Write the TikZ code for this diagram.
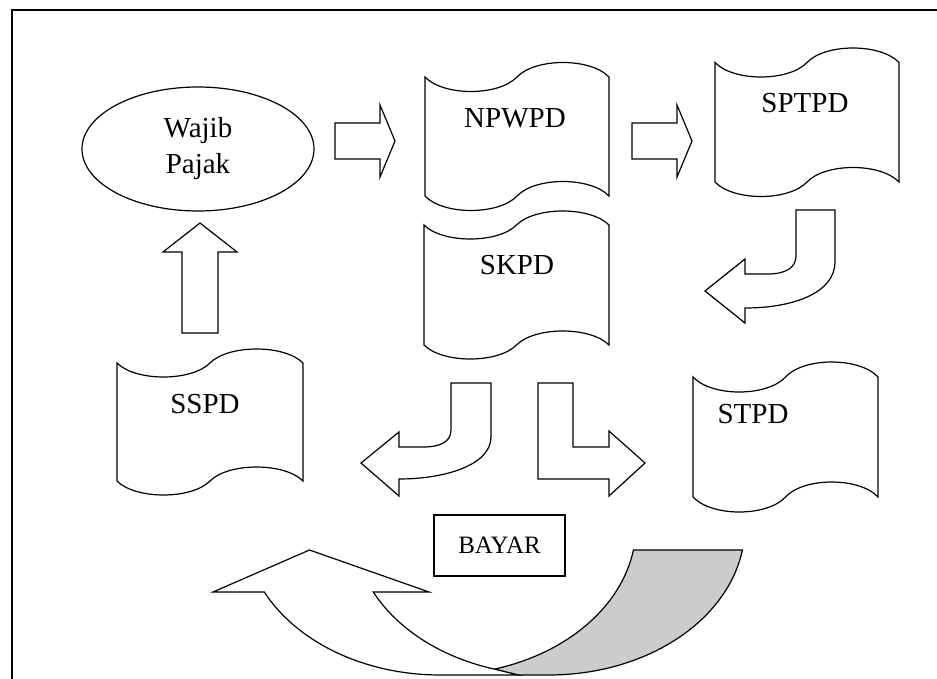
\documentclass[tikz,border=0pt]{standalone}
\usepackage{fontspec}
\setmainfont{Liberation Serif}
\usetikzlibrary{shapes.geometric}
\definecolor{shadegray}{RGB}{204,204,204}
\tikzset{
  shp/.style={draw=black, line width=1.2pt, fill=white, line join=miter},
  lbl/.style={font=\fontsize{29}{36}\selectfont, inner sep=0pt, align=center},
  frame/.style={draw=black, line width=1.7pt},
}
% name, x0, x1, ytop, ybottom, amplitude, text x, text y, text
\newcommand\tapedoc[9]{%
  \pgfmathsetmacro\tq{(#3-#2)/4}%
  \pgfmathsetmacro\th{4*#6/3}%
  \draw[shp] (#2,#4)
    .. controls ({#2+0.4*\tq},{#4+\th}) and ({#2+1.6*\tq},{#4+\th}) .. ({#2+2*\tq},#4)
    .. controls ({#2+2.4*\tq},{#4-\th}) and ({#2+3.6*\tq},{#4-\th}) .. (#3,#4)
    -- (#3,#5)
    .. controls ({#2+3.6*\tq},{#5-\th}) and ({#2+2.4*\tq},{#5-\th}) .. ({#2+2*\tq},#5)
    .. controls ({#2+1.6*\tq},{#5+\th}) and ({#2+0.4*\tq},{#5+\th}) .. (#2,#5)
    -- cycle;
  \node[lbl] (#1) at (#7,#8) {#9};%
}
\begin{document}
\begin{tikzpicture}[x=1pt,y=-1pt]
\useasboundingbox (0,0) rectangle (937,679);
% frame
\draw[frame] (12,679) -- (12,10) -- (937,10);

% Wajib Pajak
\node[ellipse, draw, line width=1.2pt, minimum width=232, minimum height=124,
      inner sep=0pt, align=center, font=\fontsize{29}{36}\selectfont]
      (wp) at (198,149) {Wajib\\Pajak};

% documents
\tapedoc{npwpd}{425}{609}{77}{196}{14.5}{515}{118}{NPWPD}
\tapedoc{sptpd}{715}{899}{62.5}{182}{14.5}{805}{103}{SPTPD}
\tapedoc{skpd}{424}{609}{225}{345}{14}{517}{265}{SKPD}
\tapedoc{sspd}{117}{303}{363}{481}{14}{205}{404}{SSPD}
\tapedoc{stpd}{693}{878}{377}{497}{15}{753}{414}{STPD}

% straight block arrows
\draw[shp] (335,123) -- (380,123) -- (380,105) -- (395,141) -- (380,177) -- (380,159) -- (335,159) -- cycle;
\draw[shp] (632,123) -- (677,123) -- (677,105) -- (692,141) -- (677,177) -- (677,159) -- (632,159) -- cycle;
\draw[shp] (182,333) -- (182,252) -- (163,252) -- (200,223) -- (237,252) -- (218,252) -- (218,333) -- cycle;

% SPTPD -> SKPD bent arrow
\draw[shp] (796,210) -- (835,210) -- (835,262)
  .. controls (835,292) and (795,308) .. (745,308)
  -- (745,323) -- (705,291) -- (745,259) -- (745,274) -- (768,274)
  .. controls (785,274) and (796,268) .. (796,256) -- cycle;

% SKPD -> SSPD bent arrow
\draw[shp] (451,383) -- (491,383) -- (491,437)
  .. controls (491,465) and (445,479) .. (399,479)
  -- (399,496) -- (361,463) -- (399,432) -- (399,447) -- (423,447)
  .. controls (440,447) and (451,442) .. (451,430) -- cycle;

% SKPD -> STPD L arrow
\draw[shp] (538,383) -- (573,383) -- (573,447) -- (609,447) -- (609,431) -- (645,463)
  -- (609,496) -- (609,479) -- (538,479) -- cycle;

% BAYAR
\node[draw, line width=1.2pt, minimum width=131, minimum height=61, inner sep=0pt,
      font=\fontsize{25}{30}\selectfont] (bayar) at (499.5,545.5) {BAYAR};

% curved up arrow: shaded back part
\draw[shp, fill=shadegray]
  (494.5,669.2)
  -- plot[domain=73.9:9.3, samples=40] ({440+196*cos(\x)},{526+149*sin(\x)})
  -- plot[domain=9.3:90, samples=40] ({549+196*cos(\x)},{526+149*sin(\x)})
  -- (518,675) -- cycle;
% curved up arrow: front band and head
\draw[shp] (264.5,592) -- (213,592) -- (309.5,550) -- (429,592) -- (373.5,592)
  -- plot[domain=153.7:106.1, samples=40] ({549+196*cos(\x)},{526+149*sin(\x)})
  -- (518,675) -- (440,675)
  -- plot[domain=90:153.7, samples=40] ({440+196*cos(\x)},{526+149*sin(\x)})
  -- cycle;
\end{tikzpicture}
\end{document}
